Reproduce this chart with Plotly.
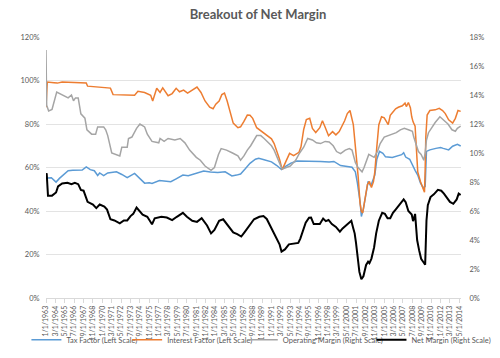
import plotly.graph_objects as go
import pandas as pd

# ---------------- data ----------------
tax_dates = ["1963-01","1963-03","1963-09","1964-04","1964-09","1965-04","1965-10","1966-05","1967-07","1968-01",
             "1968-07","1969-01","1969-06","1969-09","1970-03","1970-09","1971-10","1972-06","1973-02","1974-01",
             "1974-07","1975-04","1975-11","1976-03","1977-02","1977-09","1978-07","1979-03","1980-01","1980-09",
             "1981-08","1982-08","1983-06","1984-05","1985-04","1986-02","1986-09","1987-03","1987-10","1988-05",
             "1989-01","1989-06","1990-02","1991-01","1991-09","1992-04","1992-10","1993-06","1994-03","1995-01",
             "1996-06","1997-02","1998-03","1998-10","1999-08","2000-06","2001-01","2001-06","2001-09","2002-01",
             "2002-03","2002-06","2002-10","2003-01","2003-05","2003-08","2003-11","2004-02","2004-06","2004-11",
             "2005-03","2006-01","2006-09","2007-03","2007-06","2007-09","2008-03","2008-07","2008-11","2009-03",
             "2009-07","2009-11","2010-02","2010-04","2010-09","2011-06","2012-01","2012-05","2013-01","2013-07",
             "2014-02","2014-07"]
tax_vals = [56.5,55.2,55.3,53.3,55.0,57.0,58.5,58.7,58.8,60.3,
            59.0,58.5,56.3,57.5,56.3,57.5,58.0,56.8,55.3,57.3,
            55.5,52.8,53.0,52.7,54.0,53.8,53.5,54.8,56.5,56.2,
            57.2,58.4,57.9,57.7,58.0,56.1,56.5,57.0,59.4,61.9,
            63.8,64.2,63.6,62.6,60.9,59.1,60.5,62.0,63.0,63.0,
            63.0,62.8,62.5,62.8,60.9,60.5,60.1,58.0,52.9,44.2,
            37.5,41.0,49.3,53.6,51.5,54.0,56.5,63.8,67.4,66.5,
            64.9,64.6,65.2,65.9,66.8,64.8,63.8,60.9,58.7,56.5,
            52.9,50.7,51.2,67.4,68.1,68.8,69.2,68.8,68.1,69.8,
            70.7,69.9]

int_dates = ["1963-01","1963-03","1964-01","1964-06","1965-01","1966-06","1968-01","1968-03","1970-06","1971-01",
             "1971-05","1974-01","1974-06","1975-04","1976-01","1976-04","1976-10","1977-03","1977-07","1978-03",
             "1978-09","1979-03","1979-08","1980-02","1980-08","1981-03","1981-10","1982-04","1982-10","1983-05",
             "1983-10","1984-02","1984-07","1984-11","1985-03","1985-07","1985-12","1986-04","1986-11","1987-03",
             "1987-08","1988-01","1988-05","1988-09","1989-03","1989-09","1990-06","1991-01","1991-05","1991-09",
             "1992-01","1992-05","1992-09","1993-04","1993-10","1994-06","1994-09","1995-01","1995-05","1995-10",
             "1996-02","1996-07","1997-01","1997-05","1997-09","1998-02","1998-08","1999-01","1999-06","1999-09",
             "2000-02","2000-06","2000-10","2001-03","2001-06","2001-10","2002-01","2002-03","2002-05","2002-08",
             "2002-12","2003-03","2003-06","2003-09","2003-11","2004-02","2004-05","2004-09","2005-01","2005-07",
             "2005-10","2006-02","2006-06","2006-10","2007-04","2007-08","2007-10","2008-01","2008-04","2008-06",
             "2008-08","2008-11","2009-01","2009-03","2009-07","2009-10","2010-01","2010-02","2010-03","2010-05",
             "2010-09","2011-05","2011-11","2012-04","2012-08","2013-01","2013-07","2013-11","2014-03","2014-07"]
int_vals = [87.7,99.3,99.0,98.8,99.3,99.2,98.9,97.4,96.8,96.5,
            93.5,93.2,95.0,94.5,93.2,90.6,96.4,94.5,96.6,93.0,
            94.0,96.4,94.8,95.6,94.2,95.5,97.0,94.5,90.6,87.7,
            87.0,89.1,90.6,93.5,94.2,90.6,84.8,80.4,78.3,78.7,
            81.2,84.1,84.0,82.6,78.3,76.8,74.6,73.2,71.0,67.4,
            63.8,59.0,61.6,66.5,65.5,67.0,69.5,77.5,82.0,82.6,
            78.0,76.1,78.3,81.5,78.5,74.6,76.5,75.0,76.5,78.3,
            81.5,84.8,86.2,79.7,71.0,56.5,43.5,39.9,39.1,44.9,
            52.2,53.6,50.8,53.5,58.0,69.6,79.7,83.3,82.8,79.7,
            84.0,85.5,87.0,87.7,88.4,89.6,88.0,89.9,87.5,83.3,
            81.0,79.0,66.7,58.0,53.6,50.7,48.6,59.4,73.9,84.1,
            86.2,86.5,87.2,86.2,84.8,81.9,80.4,82.6,86.2,85.8]

op_dates = ["1963-01","1963-02","1963-05","1963-10","1964-05","1965-01","1965-10","1966-03","1966-06","1966-09",
            "1967-01","1967-05","1967-11","1968-02","1968-09","1969-03","1969-06","1970-03","1970-06","1970-09",
            "1971-03","1972-03","1972-06","1973-02","1973-04","1973-09","1974-04","1974-09","1975-04","1975-08",
            "1976-03","1977-01","1977-03","1977-09","1978-03","1979-01","1979-09","1980-04","1980-11","1981-09",
            "1982-03","1982-10","1983-07","1983-12","1984-06","1984-10","1985-06","1986-03","1986-11","1987-03",
            "1987-08","1988-01","1988-06","1989-03","1989-09","1990-02","1990-07","1991-01","1991-05","1991-09",
            "1992-02","1992-05","1992-11","1993-05","1994-01","1994-07","1995-01","1995-07","1996-02","1996-08",
            "1997-02","1997-09","1998-03","1998-09","1999-02","1999-08","2000-03","2000-09","2001-01","2001-06",
            "2001-10","2002-04","2002-07","2002-11","2003-02","2003-06","2003-10","2004-03","2004-07","2005-01",
            "2005-07","2006-01","2006-07","2007-01","2007-07","2008-01","2008-07","2008-09","2009-01","2009-04",
            "2009-08","2009-12","2010-02","2010-04","2010-07","2010-11","2011-05","2011-12","2012-05","2012-12",
            "2013-06","2013-11","2014-02","2014-07"]
op_vals = [17.1,13.3,12.9,13.0,14.2,14.0,13.8,14.0,13.6,13.8,
           13.8,12.7,12.4,11.6,11.3,11.3,11.8,11.8,11.6,11.2,
           10.0,9.8,10.4,10.4,11.0,11.1,11.7,12.0,11.8,11.3,
           10.8,10.7,11.0,10.8,11.0,10.9,11.0,10.7,10.2,9.7,
           9.5,9.1,8.8,9.0,9.9,10.3,10.2,10.0,9.8,9.5,
           9.8,10.2,10.5,11.2,11.2,11.0,10.8,10.5,10.2,9.7,
           9.2,8.9,9.0,9.1,9.5,10.0,10.4,11.0,10.9,10.7,
           10.65,10.8,10.76,10.5,10.1,9.96,10.2,10.3,10.2,9.35,
           9.0,8.7,9.0,9.6,9.9,9.8,9.7,10.1,10.65,11.1,
           11.2,11.3,11.4,11.6,11.7,11.6,11.5,11.1,10.6,10.1,
           9.9,9.5,10.0,10.9,11.4,11.7,12.1,12.5,12.3,12.0,
           11.6,11.5,11.7,11.85]

net_dates = ["1963-01","1963-02","1963-04","1963-10","1964-04","1964-07","1965-01","1965-09","1966-03","1966-08",
             "1967-01","1967-05","1967-09","1968-03","1968-11","1969-04","1969-09","1970-04","1970-08","1971-01",
             "1971-07","1972-03","1972-09","1973-02","1973-07","1973-11","1974-04","1974-08","1975-01","1975-08",
             "1976-03","1976-07","1977-05","1978-01","1978-09","1979-04","1980-01","1980-07","1981-03","1981-10",
             "1982-05","1983-01","1983-07","1983-12","1984-07","1985-01","1985-08","1986-04","1986-10","1987-04",
             "1987-09","1988-05","1988-11","1989-07","1990-01","1990-06","1990-11","1991-06","1992-01","1992-04",
             "1992-09","1993-03","1993-09","1994-05","1994-08","1995-01","1995-04","1995-09","1995-12","1996-04",
             "1997-01","1997-06","1997-10","1998-02","1998-07","1999-01","1999-07","1999-11","2000-05","2000-12",
             "2001-03","2001-05","2001-07","2001-09","2001-12","2002-03","2002-06","2002-10","2003-01","2003-03",
             "2003-06","2003-10","2004-01","2004-05","2004-10","2005-02","2005-06","2005-10","2006-02","2006-06",
             "2006-11","2007-02","2007-06","2007-09","2008-01","2008-06","2008-08","2008-11","2009-02","2009-05",
             "2009-08","2009-11","2010-02","2010-04","2010-06","2010-10","2011-03","2011-09","2012-02","2012-06",
             "2012-11","2013-03","2013-08","2014-01","2014-04","2014-07"]
net_vals = [8.5,8.6,7.06,7.06,7.28,7.7,7.9,7.95,7.85,7.95,
            7.85,7.45,7.4,6.63,6.45,6.2,6.45,6.3,6.1,5.43,
            5.35,5.15,5.35,5.35,5.65,5.8,6.24,6.0,5.75,5.6,
            5.08,5.5,5.6,5.55,5.37,5.6,5.87,5.6,5.33,5.25,
            5.5,5.0,4.46,4.7,5.33,5.43,5.0,4.52,4.4,4.24,
            4.55,5.1,5.43,5.6,5.65,5.45,5.0,4.35,3.7,3.2,
            3.35,3.7,3.75,3.8,4.1,4.78,5.2,5.54,5.55,5.1,
            5.1,5.48,5.3,5.38,5.1,4.9,4.57,4.8,5.07,5.33,
            4.8,4.46,3.8,3.0,1.8,1.3,1.5,2.28,2.5,2.4,
            2.72,3.5,4.46,5.33,5.87,5.8,5.5,5.5,5.87,6.1,
            6.41,6.6,6.8,6.6,6.0,5.76,5.3,5.8,4.0,3.3,
            2.7,2.5,2.3,5.33,6.4,6.96,7.15,7.46,7.4,7.2,
            6.9,6.63,6.5,6.8,7.2,7.1]

x_tick_labels = ["1/1/1963","3/1/1964","5/1/1965","7/1/1966","9/1/1967","11/1/1968","1/1/1970","3/1/1971",
                 "5/1/1972","7/1/1973","9/1/1974","11/1/1975","1/1/1977","3/1/1978","5/1/1979","7/1/1980",
                 "9/1/1981","11/1/1982","1/1/1984","3/1/1985","5/1/1986","7/1/1987","9/1/1988","11/1/1989",
                 "1/1/1991","3/1/1992","5/1/1993","7/1/1994","9/1/1995","11/1/1996","1/1/1998","3/1/1999",
                 "5/1/2000","7/1/2001","9/1/2002","11/1/2003","1/1/2005","3/1/2006","5/1/2007","7/1/2008",
                 "9/1/2009","11/1/2010","1/1/2012","3/1/2013","5/1/2014"]
left_ticks = [0, 20, 40, 60, 80, 100, 120]
right_ticks = [0, 2, 4, 6, 8, 10, 12, 14, 16, 18]

# ---------------- figure ----------------
FONT = "Lato"
TXT = "#595959"
tick_dates = pd.to_datetime(x_tick_labels, format="%m/%d/%Y")

fig = go.Figure()
fig.add_trace(go.Scatter(x=tax_dates, y=tax_vals, name="Tax Factor (Left Scale)", mode="lines",
                         line=dict(color="#5B9BD5", width=1.5), legend="legend"))
fig.add_trace(go.Scatter(x=int_dates, y=int_vals, name="Interest Factor (Left Scale)", mode="lines",
                         line=dict(color="#ED7D31", width=1.5), legend="legend2"))
fig.add_trace(go.Scatter(x=op_dates, y=op_vals, name="Operating Margin (Right Scale)", mode="lines",
                         line=dict(color="#A5A5A5", width=1.5), yaxis="y2", legend="legend3"))
fig.add_trace(go.Scatter(x=net_dates, y=net_vals, name="Net Margin (Right Scale)", mode="lines",
                         line=dict(color="#000000", width=2), yaxis="y2", legend="legend4"))

def leg(px_left):
    return dict(orientation="h", x=(px_left - 29) / 445, xanchor="left", y=-0.16, yanchor="middle",
                font=dict(family=FONT, size=7.5, color=TXT), itemwidth=30,
                bgcolor="rgba(0,0,0,0)", borderwidth=0)

fig.update_layout(
    width=500, height=358,
    margin=dict(l=29, r=26, t=29, b=53),
    paper_bgcolor="white", plot_bgcolor="white",
    font=dict(family=FONT, color=TXT),
    title=dict(text="<b>Breakout of Net Margin</b>", x=0.5, xanchor="center", y=0.982, yanchor="middle",
               font=dict(family=FONT, size=13, color=TXT)),
    showlegend=True,
    legend=leg(8), legend2=leg(116), legend3=leg(240), legend4=leg(378),
    xaxis=dict(type="date", range=["1963-01-01", "2014-07-15"], tickvals=tick_dates, ticktext=x_tick_labels,
               tickangle=-90, tickfont=dict(family=FONT, size=7, color=TXT), showgrid=False,
               showline=True, linecolor="#D9D9D9", linewidth=1, ticks="outside", ticklen=4,
               tickcolor="#D9D9D9", zeroline=False),
    yaxis=dict(range=[0, 120], tickvals=left_ticks, ticktext=[f"{v}%" for v in left_ticks],
               tickfont=dict(family=FONT, size=7.5, color=TXT), showgrid=True, gridcolor="#E3E3E3",
               gridwidth=1, zeroline=False, ticks="outside", ticklen=4, tickcolor="rgba(0,0,0,0)"),
    yaxis2=dict(range=[0, 18], tickvals=right_ticks, ticktext=[f"{v}%" for v in right_ticks],
                overlaying="y", side="right", showgrid=False, zeroline=False,
                tickfont=dict(family=FONT, size=7.5, color=TXT), ticks="outside", ticklen=6,
                tickcolor="rgba(0,0,0,0)"),
)

fig.write_html("out.html")
